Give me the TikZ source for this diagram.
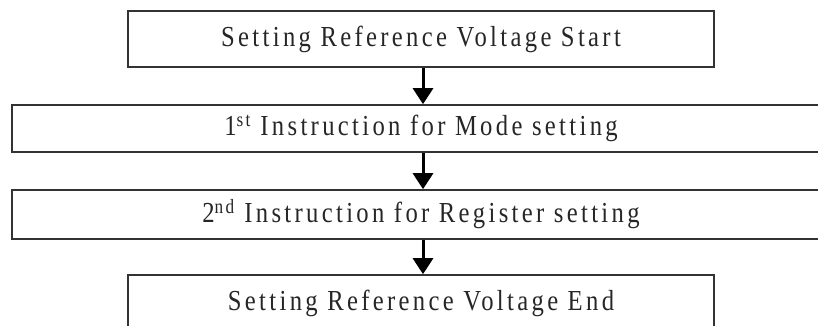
\documentclass[tikz,border=0pt]{standalone}
\usepackage{fontspec}
\setmainfont{Liberation Serif}[FakeStretch=0.85, LetterSpace=11.5]
\usetikzlibrary{arrows.meta}
\begin{document}
\begin{tikzpicture}[x=1pt,y=-1pt,
  box/.style={draw=black!80, line width=1.6pt, fill=white, inner sep=0pt,
    text=black!85, font=\fontsize{29}{33}\selectfont},
  flow/.style={line width=3pt, -{Triangle[width=20pt,length=16pt]}}]
\useasboundingbox (0,0) rectangle (818,326);
\clip (0,0) rectangle (818,326);
\node[box, minimum width=586pt, minimum height=56pt] (b1) at (421,39) {Setting Reference Voltage Start};
\node[box, minimum width=818pt, minimum height=47pt] (b2) at (421,128.5) {1\textsuperscript{st} Instruction for Mode setting};
\node[box, minimum width=818pt, minimum height=49pt] (b3) at (421,214.5) {2\textsuperscript{nd} Instruction for Register setting};
\node[box, minimum width=586pt, minimum height=56pt] (b4) at (421,303) {Setting Reference Voltage End};
\draw[flow] ([xshift=2pt]b1.south) -- ([xshift=2pt]b2.north);
\draw[flow] ([xshift=2pt]b2.south) -- ([xshift=2pt]b3.north);
\draw[flow] ([xshift=2pt]b3.south) -- ([xshift=2pt]b4.north);
\end{tikzpicture}
\end{document}
